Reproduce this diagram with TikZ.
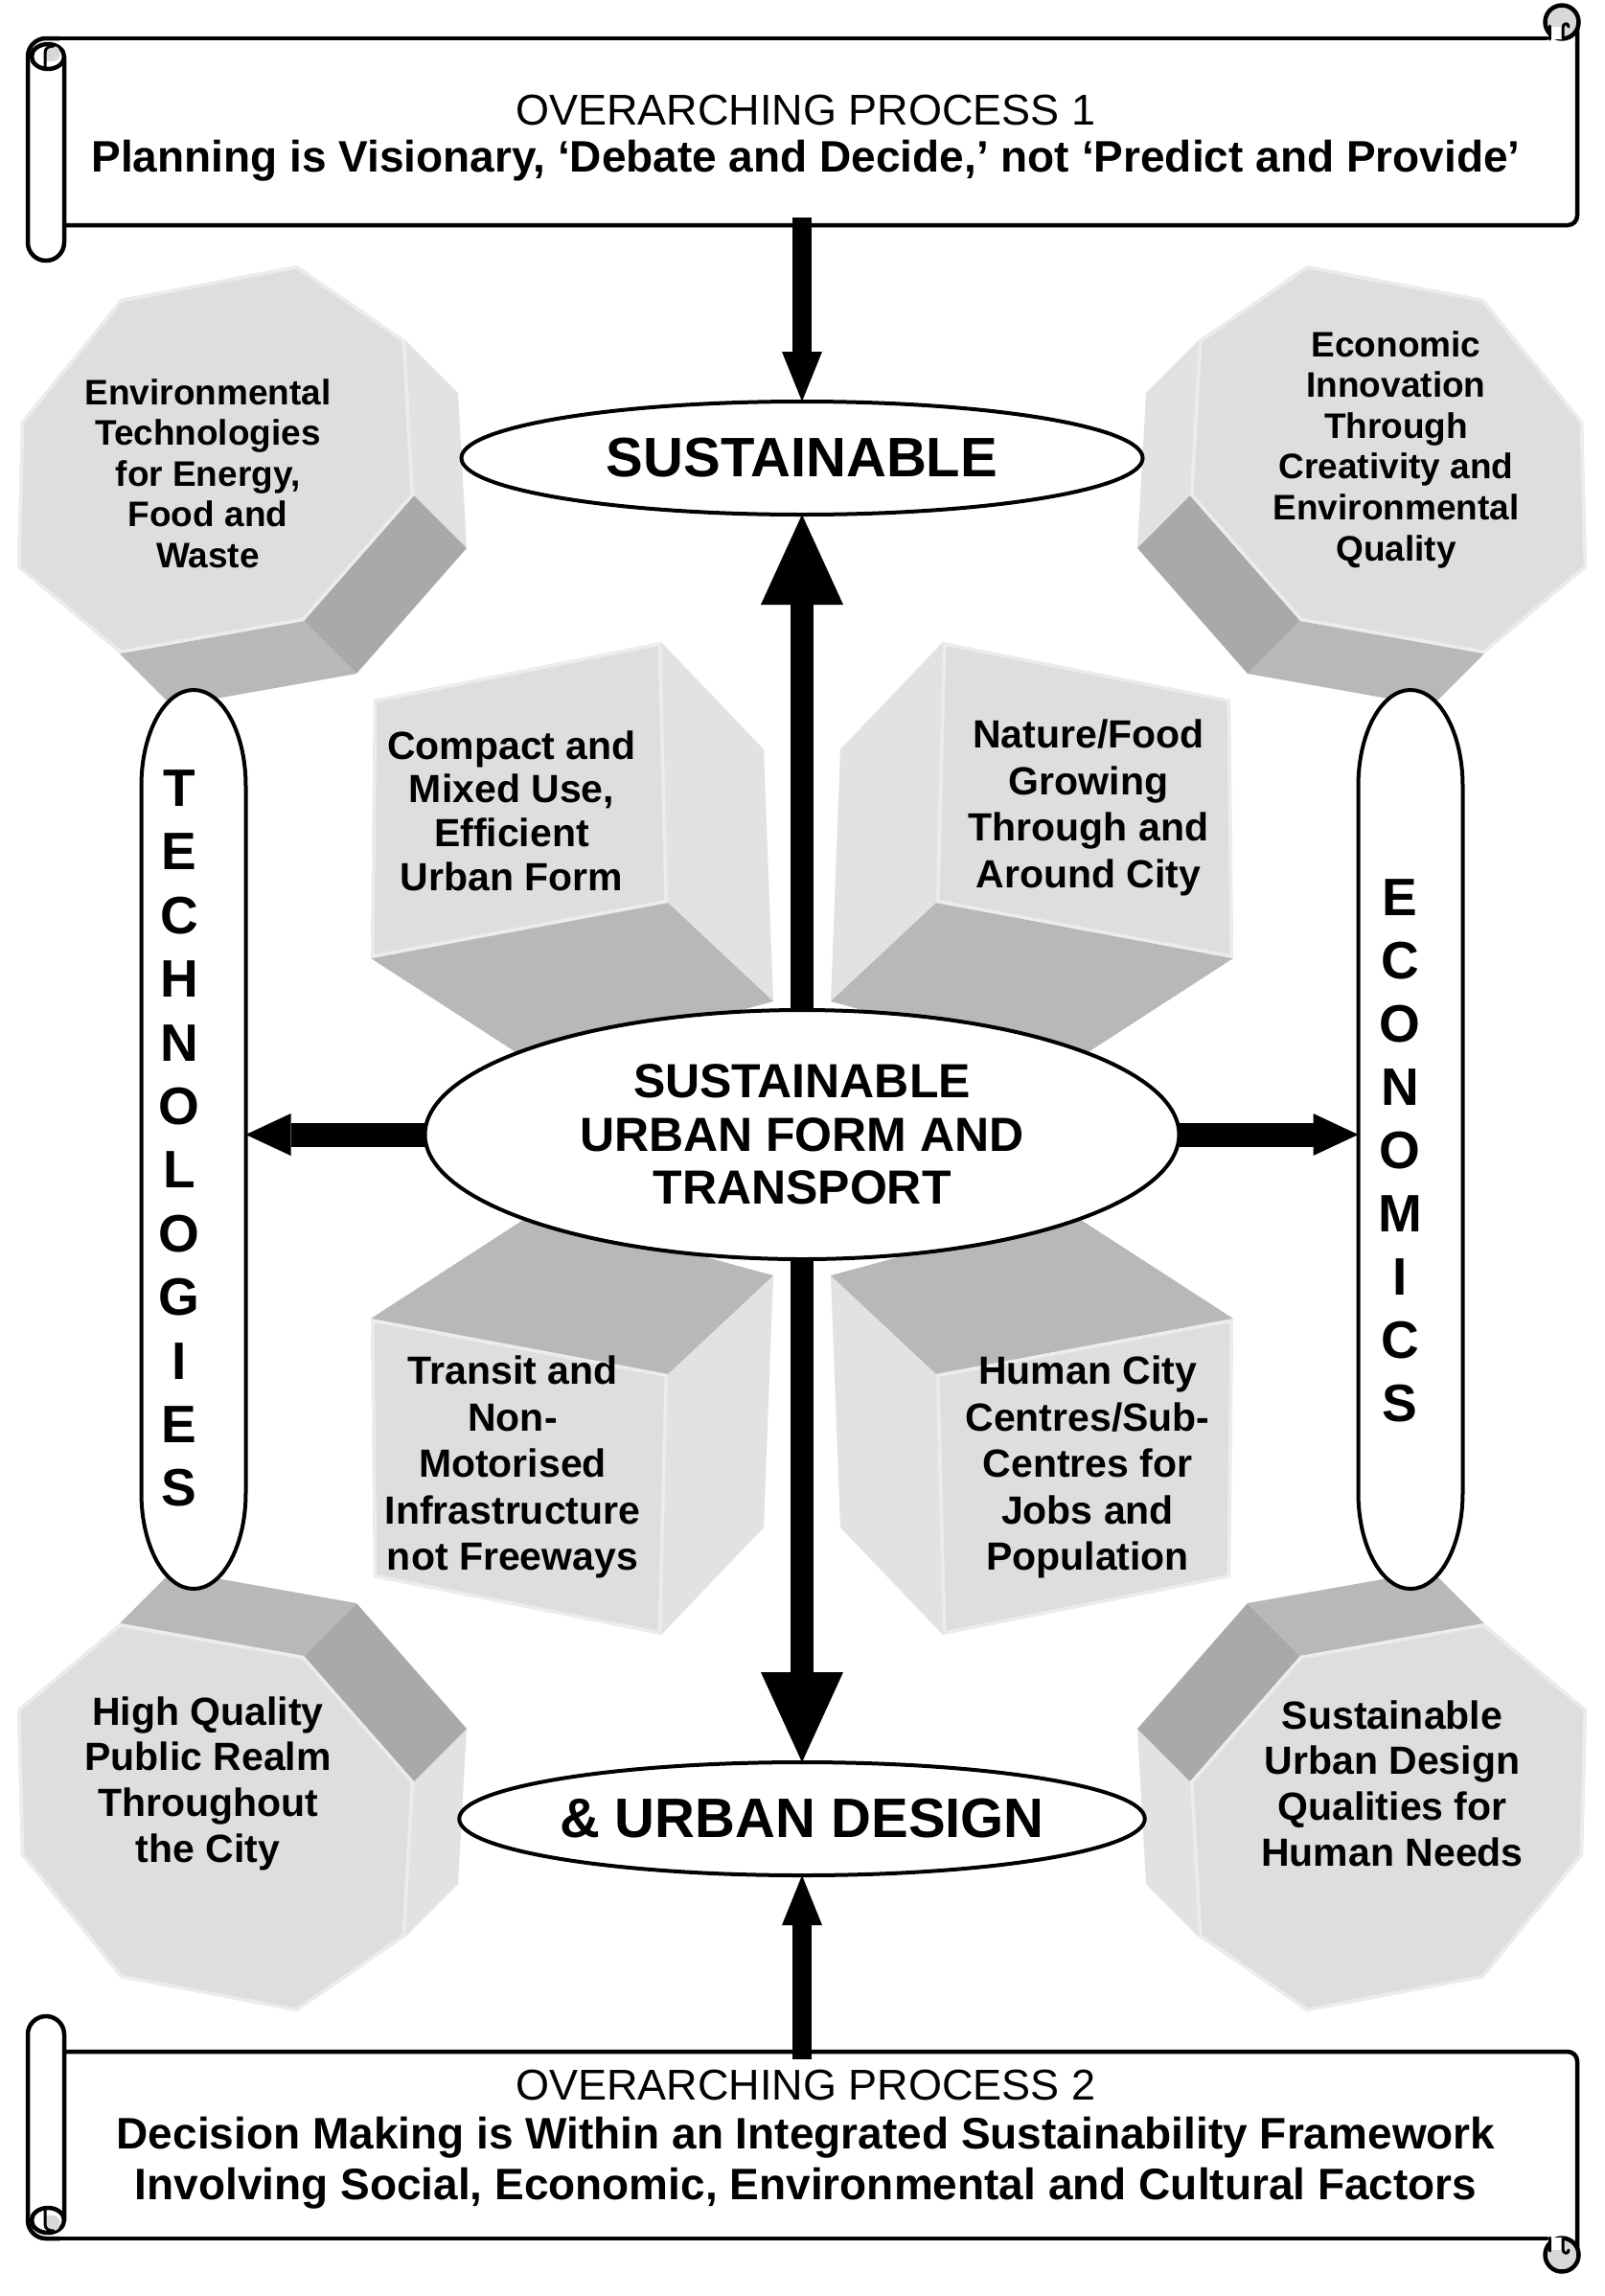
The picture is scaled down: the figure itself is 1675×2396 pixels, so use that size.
\documentclass[tikz,border=0pt]{standalone}
\usepackage{fontspec}
\setmainfont{Liberation Sans}
\usetikzlibrary{shapes.geometric,arrows.meta}
\definecolor{facegray}{HTML}{DEDEDE}
\definecolor{sidelight}{HTML}{E2E2E2}
\definecolor{sidedark}{HTML}{A9A9A9}
\definecolor{sidemid}{HTML}{B8B8B8}
\definecolor{hilite}{HTML}{ECECEC}
\definecolor{curlgray}{HTML}{D8D8D8}
\tikzset{
  lbl/.style={align=center, inner sep=0pt, outer sep=0pt, text=black},
  octA/.style={lbl, font=\bfseries\fontsize{37}{42.6}\selectfont},
  octB/.style={lbl, font=\bfseries\fontsize{41}{47.7}\selectfont},
  cubeA/.style={lbl, font=\bfseries\fontsize{41}{45.7}\selectfont},
  cubeB/.style={lbl, font=\bfseries\fontsize{41}{48.5}\selectfont},
  vert/.style={lbl, font=\bfseries\fontsize{55}{66.4}\selectfont},
  vertE/.style={lbl, font=\bfseries\fontsize{55}{66}\selectfont},
  ell/.style={ellipse, draw=black, line width=4pt, fill=white, inner sep=0pt, outer sep=0pt},
  pillanchor/.style={rectangle, draw=none, inner sep=0pt, outer sep=0pt, minimum width=109pt, minimum height=938pt},
  pill/.style={draw=black, line width=4pt, fill=white},
  bigtxt/.style={font=\bfseries\fontsize{58}{64}\selectfont},
  centxt/.style={font=\bfseries\fontsize{50}{55.5}\selectfont, align=center},
  procnode/.style={rectangle, draw=none, inner sep=0pt, outer sep=0pt, minimum width=1579pt, minimum height=195pt},
  proctitle/.style={inner sep=0pt, anchor=base, font=\fontsize{45}{50}\selectfont},
  procline/.style={inner sep=0pt, anchor=base, font=\bfseries\fontsize{46}{50}\selectfont},
  scrl/.style={draw=black, line width=4.5pt, line join=round, line cap=round},
  arrS/.style={draw=black, line width=20pt, -{Triangle[width=42pt, length=52pt, line width=0pt]}},
  arrB/.style={draw=black, line width=24pt, -{Triangle[width=86pt, length=94pt, line width=0pt]}},
  arrH/.style={draw=black, line width=25pt, -{Triangle[width=44pt, length=47pt, line width=0pt]}},
}
% octagonal prism (top-left orientation)
\newcommand\octfront[1]{\path[#1] (126,312) -- (310,277) -- (423,355) -- (432,517) -- (317,648) -- (125,682) -- (18,592) -- (22,440) -- cycle;}
\newcommand\octashape{%
  \fill[sidelight] (423,355) -- (432,517) -- (487,572) -- (478,410) -- cycle;
  \fill[sidedark] (432,517) -- (317,648) -- (372,703) -- (487,572) -- cycle;
  \fill[sidemid] (317,648) -- (125,682) -- (180,737) -- (372,703) -- cycle;
  \octfront{fill=facegray}
  \begin{scope}\octfront{clip}\octfront{draw=hilite, line width=7pt, line join=round}\end{scope}
}
% cube (top-left orientation)
\newcommand\cubefront[1]{\path[#1] (390,730) -- (690,670) -- (697,942) -- (387,1000) -- cycle;}
\newcommand\cubeshape{%
  \fill[sidelight] (690,670) -- (797,782) -- (807,1045) -- (697,942) -- cycle;
  \fill[sidemid] (387,1000) -- (697,942) -- (807,1045) -- (560,1112) -- cycle;
  \cubefront{fill=facegray}
  \begin{scope}\cubefront{clip}\cubefront{draw=hilite, line width=7pt, line join=round}\end{scope}
}
% scroll (top orientation)
\newcommand\scrollshape{%
  \fill[white] (48,40) rectangle (1646,235);
  \draw[scrl, rounded corners=10pt] (1646,30) -- (1646,235) -- (60,235);
  \draw[scrl] (45,40) -- (1614,40);
  \filldraw[scrl, fill=curlgray] (1630,23) circle[radius=17.5];
  \fill[white] (1617,41) rectangle (1631,28);
  \draw[scrl, line width=3pt] (1617,41) -- (1617,27);
  \draw[scrl, line width=3pt] (1631,40) -- (1631,29) .. controls (1631,24) and (1637,23) .. (1637,28);
  \filldraw[scrl, fill=white, rounded corners=19pt] (67,60) -- (67,272) -- (29,272) -- (29,40) -- (62,40);
  \filldraw[scrl, fill=white] (50,59) ellipse[x radius=17, y radius=13];
  \fill[curlgray] (47,63) -- (47,54) .. controls (47,49) and (52,48) .. (56,48) .. controls (61,48) and (64,53) .. (62,60) .. controls (60,64) and (53,66) .. (47,63) -- cycle;
  \draw[scrl, line width=3pt] (47,72) -- (47,55) .. controls (47,50) and (51,48) .. (56,48);
}
% tall oval with elliptic ends, centred at (#1,#2)
\newcommand\pillshape[2]{%
  \draw[pill] (#1+54.5,820) -- (#1+54.5,1558) arc[start angle=0, end angle=180, x radius=54.5, y radius=100]
    -- (#1-54.5,820) arc[start angle=180, end angle=360, x radius=54.5, y radius=100] -- cycle;
}
\begin{document}
\begin{tikzpicture}[x=1pt, y=-1pt]
\useasboundingbox[fill=white] (0,0) rectangle (1675,2396);

% octagonal prisms
\octashape
\begin{scope}[shift={(1674,0)}, xscale=-1]\octashape\end{scope}
\begin{scope}[shift={(0,2376)}, yscale=-1]\octashape\end{scope}
\begin{scope}[shift={(1674,2376)}, xscale=-1, yscale=-1]\octashape\end{scope}

% cubes
\cubeshape
\begin{scope}[shift={(1674,0)}, xscale=-1]\cubeshape\end{scope}
\begin{scope}[shift={(0,2376)}, yscale=-1]\cubeshape\end{scope}
\begin{scope}[shift={(1674,2376)}, xscale=-1, yscale=-1]\cubeshape\end{scope}

% texts on prisms
\node[octA] (envtech) at (217,494) {Environmental\\Technologies\\for Energy,\\Food and\\Waste};
\node[octA] (econinno) at (1457,469) {Economic\\Innovation\\Through\\Creativity and\\Environmental\\Quality};
\node[octB] (publicrealm) at (217,1861) {High Quality\\Public Realm\\Throughout\\the City};
\node[octB] (urbqual) at (1453,1861) {Sustainable\\Urban Design\\Qualities for\\Human Needs};

% texts on cubes
\node[cubeA] (compact) at (534,846) {Compact and\\Mixed Use,\\Efficient\\Urban Form};
\node[cubeB] (nature) at (1136,843) {Nature/Food\\Growing\\Through and\\Around City};
\node[cubeB] (transit) at (535,1531) {Transit and\\Non-\\Motorised\\Infrastructure\\not Freeways};
\node[cubeB] (human) at (1135,1531) {Human City\\Centres/Sub-\\Centres for\\Jobs and\\Population};

% ovals
\node[ell, minimum width=711pt, minimum height=118pt, bigtxt] (sust) at (837,478) {SUSTAINABLE};
\node[ell, minimum width=787pt, minimum height=260pt, centxt] (cent) at (837,1184) {SUSTAINABLE\\URBAN FORM AND\\TRANSPORT};
\node[ell, minimum width=711pt, minimum height=118pt, bigtxt] (urb) at (837,1898) {\& URBAN DESIGN};
\pillshape{202}{1189}
\pillshape{1472}{1189}
\node[pillanchor] (tech) at (202,1189) {};
\node[pillanchor] (econ) at (1472,1189) {};
\node[vert] (techtxt) at (187,1188) {T\\E\\C\\H\\N\\O\\L\\O\\G\\I\\E\\S};
\node[vertE] (econtxt) at (1461,1201) {E\\C\\O\\N\\O\\M\\I\\C\\S};

% scrolls
\scrollshape
\begin{scope}[shift={(0,2376)}, yscale=-1]\scrollshape\end{scope}
\node[procnode] (procA) at (856,137.5) {};
\node[procnode] (procB) at (856,2238.5) {};
\node[proctitle] (procAt) at (841,130) {OVERARCHING PROCESS 1};
\node[procline] (procAl) at (841,179) {Planning is Visionary, ‘Debate and Decide,’ not ‘Predict and Provide’};
\node[proctitle] (procBt) at (841,2191) {OVERARCHING PROCESS 2};
\node[procline] (procBl1) at (841,2242) {Decision Making is Within an Integrated Sustainability Framework};
\node[procline] (procBl2) at (841,2295) {Involving Social, Economic, Environmental and Cultural Factors};

% connectors
\draw[arrS, shorten <=-8pt] (procA.south -| sust.north) -- (sust.north);
\draw[arrB] (cent.north) -- (sust.south);
\draw[arrH] (cent.west) -- (cent.west -| tech.east);
\draw[arrH] (cent.east) -- (cent.east -| econ.west);
\draw[arrB] (cent.south) -- (urb.north);
\draw[arrS, shorten <=-8pt] (procB.north -| urb.south) -- (urb.south);
\end{tikzpicture}
\end{document}
